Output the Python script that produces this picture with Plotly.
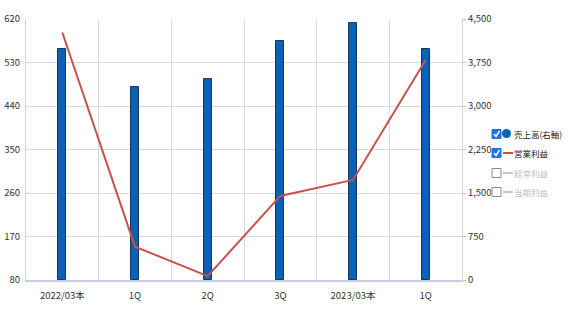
import plotly.graph_objects as go

categories = ["2022/03本", "1Q", "2Q", "3Q", "2023/03本", "1Q"]
sales = [3990, 3330, 3460, 4120, 4435, 3985]          # 売上高 (right axis)
op_profit = [592, 149, 88, 254, 287, 535]               # 営業利益 (left axis)
left_ticks = [80, 170, 260, 350, 440, 530, 620]
right_ticks = [0, 750, 1500, 2250, 3000, 3750, 4500]
legend_names = ["売上高(右軸)", "営業利益", "経常利益", "当期利益"]
legend_checked = [True, True, False, False]

FONT = "Noto Sans CJK JP"
BAR_COLOR = "#0a62b8"
LINE_COLOR = "#c8524c"
GRID = "#dadada"

xs = list(range(len(categories)))

fig = go.Figure()
fig.add_trace(go.Bar(x=xs, y=sales, xaxis="x", yaxis="y", width=0.11,
                     marker=dict(color=BAR_COLOR, line=dict(color="#1d3552", width=1)),
                     name=legend_names[0], showlegend=False))
fig.add_trace(go.Scatter(x=xs, y=op_profit, xaxis="x2", yaxis="y2", mode="lines",
                         line=dict(color=LINE_COLOR, width=2),
                         name=legend_names[1], showlegend=False))

fig.update_layout(
    width=568, height=317,
    margin=dict(l=26, r=106, t=19, b=37),
    paper_bgcolor="white", plot_bgcolor="white",
    font=dict(family=FONT, size=10, color="#333333"),
    bargap=0,
    xaxis=dict(range=[-0.5, len(categories) - 0.5], tickvals=xs, ticktext=categories,
               showgrid=False, showline=True, linecolor="#c5cde0", linewidth=2,
               ticks="", zeroline=False, fixedrange=True, ticklabelstandoff=6,
               automargin=False, tickfont=dict(size=9.5, color="#333333")),
    xaxis2=dict(range=[-0.5, len(categories) - 0.5], overlaying="x",
                tickvals=[i + 0.5 for i in xs[:-1]], showticklabels=False,
                showgrid=True, gridcolor=GRID, gridwidth=1, ticks="", zeroline=False,
                automargin=False),
    yaxis=dict(side="right", range=[0, 4500], tickvals=right_ticks,
               tickformat=",", showgrid=False, showline=True, linecolor="#d5d5d5",
               ticks="outside", ticklen=3, tickcolor="#c0c0c0", zeroline=False,
               automargin=False, tickfont=dict(size=9.5, color="#333333")),
    yaxis2=dict(side="left", overlaying="y", range=[80, 620], tickvals=left_ticks,
                showgrid=True, gridcolor=GRID, gridwidth=1, showline=True,
                linecolor="#d5d5d5", ticks="", zeroline=False, ticklabelstandoff=3,
                automargin=False, tickfont=dict(size=9.5, color="#333333")),
)

# Manual legend (checkbox-style) in pixel-like paper coordinates
plot_l, plot_w = 26, 568 - 26 - 106
plot_b, plot_h = 317 - 37, 317 - 19 - 37

def px(x):
    return (x - plot_l) / plot_w

def py(y):
    return (plot_b - y) / plot_h

row_y = [134, 153, 173, 192]
shapes = []
annotations = []
for i, (name, checked) in enumerate(zip(legend_names, legend_checked)):
    cy = row_y[i]
    if checked:
        shapes.append(dict(type="rect", xref="paper", yref="paper",
                           x0=px(492), x1=px(501), y0=py(cy + 4.5), y1=py(cy - 4.5),
                           fillcolor="#1a73e8", line=dict(color="#1a73e8", width=1)))
        shapes.append(dict(type="path", xref="paper", yref="paper",
                           path=f"M {px(494)} {py(cy)} L {px(496)} {py(cy + 2.5)} L {px(499.5)} {py(cy - 3)}",
                           line=dict(color="white", width=1.5)))
    else:
        shapes.append(dict(type="rect", xref="paper", yref="paper",
                           x0=px(492), x1=px(501), y0=py(cy + 4.5), y1=py(cy - 4.5),
                           fillcolor="white", line=dict(color="#8a8a8a", width=1)))
    if i == 0:
        shapes.append(dict(type="circle", xref="paper", yref="paper",
                           x0=px(502), x1=px(511), y0=py(cy + 4), y1=py(cy - 5),
                           fillcolor=BAR_COLOR, line=dict(color=BAR_COLOR, width=0)))
    else:
        col = LINE_COLOR if checked else "#c8c8c8"
        shapes.append(dict(type="line", xref="paper", yref="paper",
                           x0=px(503), x1=px(513), y0=py(cy), y1=py(cy),
                           line=dict(color=col, width=2)))
    annotations.append(dict(xref="paper", yref="paper", x=px(513), y=py(cy),
                            xanchor="left", yanchor="middle", showarrow=False,
                            text=name, borderpad=0,
                            font=dict(family=FONT, size=8.5,
                                      color="#222222" if checked else "#c0c0c0")))

fig.update_layout(shapes=shapes, annotations=annotations)
fig.write_html("out.html")
